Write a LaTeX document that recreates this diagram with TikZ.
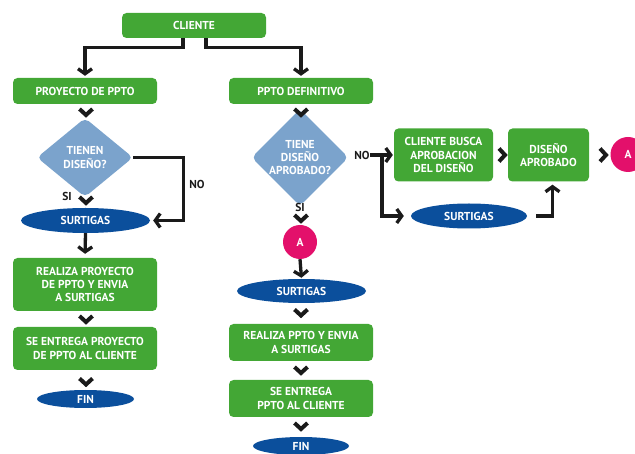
\documentclass[tikz,border=0pt]{standalone}
\usepackage{fontspec}
\setmainfont{PT Sans}
\usetikzlibrary{shapes.geometric,arrows.meta,calc}
\definecolor{gbox}{HTML}{43A735}
\definecolor{gdia}{HTML}{7BA3CC}
\definecolor{gell}{HTML}{0B4F9C}
\definecolor{gmag}{HTML}{E3106B}
\definecolor{gink}{HTML}{1A1A1A}
\begin{document}
\begin{tikzpicture}[x=1pt,y=-1pt,
  every node/.style={font=\bfseries\fontsize{11.5}{13.3}\selectfont, text=white, align=center, inner sep=0pt},
  box/.style={rectangle, rounded corners=4.5pt, fill=gbox},
  dia/.style={diamond, rounded corners=5pt, fill=gdia},
  ell/.style={ellipse, fill=gell},
  circ/.style={circle, fill=gmag},
  lbl/.style={text=gink},
  arr/.style={draw=gink, line width=3.3pt, line join=miter, -{Straight Barb[length=5pt,width=14pt,line width=3.3pt]}},
  chevd/.pic={\draw[gink, line width=4pt, line join=miter, miter limit=10] (-6.5,-3) -- (0,3) -- (6.5,-3);},
  chevr/.pic={\draw[gink, line width=4pt, line join=miter, miter limit=10] (-3,-6.5) -- (3,0) -- (-3,6.5);}
]
\clip (0,0) rectangle (635,454);
\useasboundingbox (0,0) rectangle (635,454);

% left column
\node[box, minimum width=144pt, minimum height=25pt] (cli) at (194,25.5) {CLIENTE};
\node[box, minimum width=144pt, minimum height=26pt] (proy) at (85,91) {PROYECTO DE PPTO};
\node[box, minimum width=144pt, minimum height=26pt] (def) at (301,91) {PPTO DEFINITIVO};
\node[dia, minimum width=96pt, minimum height=79pt] (d1) at (85,157.5) {TIENEN\\DISEÑO?};
\node[dia, minimum width=96pt, minimum height=79pt] (d2) at (300,157.5) {TIENE\\DISEÑO\\APROBADO?};
\node[ell, minimum width=129pt, minimum height=25pt] (surt1) at (85.5,220.5) {SURTIGAS};
\node[box, minimum width=144pt, minimum height=53pt] (real1) at (85,284.5) {REALIZA PROYECTO\\DE PPTO Y ENVIA\\A SURTIGAS};
\node[box, minimum width=144pt, minimum height=43pt] (ent1) at (85,348.5) {SE ENTREGA PROYECTO\\DE PPTO AL CLIENTE};
\node[ell, minimum width=97pt, minimum height=18pt] (fin1) at (85.5,399) {FIN};

% right branch
\node[box, minimum width=99pt, minimum height=53pt] (cba) at (443.5,155) {CLIENTE BUSCA\\APROBACION\\DEL DISEÑO};
\node[box, minimum width=81pt, minimum height=53pt] (dis) at (548.5,155) {DISEÑO\\APROBADO};
\node[circ, minimum size=35pt] (aR) at (628,154.5) {A};
\node[ell, minimum width=116pt, minimum height=25pt] (surt2) at (469,216) {SURTIGAS};

% middle column lower
\node[circ, minimum size=34pt] (aM) at (300,242) {A};
\node[ell, minimum width=129pt, minimum height=24pt] (surt3) at (301.5,291) {SURTIGAS};
\node[box, minimum width=144pt, minimum height=37pt] (real2) at (301,342.5) {REALIZA PPTO Y ENVIA\\A SURTIGAS};
\node[box, minimum width=144pt, minimum height=37pt] (ent2) at (301,398.5) {SE ENTREGA\\PPTO AL CLIENTE};
\node[ell, minimum width=96pt, minimum height=18pt] (fin2) at (301,446) {FIN};

% labels
\node[lbl] (no1) at (197,184) {NO};
\node[lbl] (si1) at (67,196) {SI};
\node[lbl] (no2) at (362,155) {NO};
\node[lbl] (si2) at (300,207) {SI};
\coordinate (nb) at (382,155);

% connectors
\draw[arr, shorten >=2pt] ([xshift=-11pt]cli.south) -- ++(0,9) -| (proy.north);
\draw[arr, shorten >=2pt] ([xshift=12pt]cli.south) -- ++(0,9) -| (def.north);
\draw[arr, shorten >=3pt] (d1.east) -- ++(50,0) |- (surt1.east);
\draw[arr, shorten >=4pt] (surt1.south) -- (real1.north);
\draw[arr, shorten >=1pt] (no2.east) -- (cba.west);
\draw[arr, shorten >=7pt] (nb) |- (surt2.west);
\draw[arr, shorten >=3pt] ([xshift=9pt]surt2.east) -| ([xshift=4pt]dis.south);
\draw[arr, shorten >=1pt] (aM.south) -- (surt3.north);

% chevrons
\pic at (86,112) {chevd};
\pic at (86,200) {chevd};
\pic at (86,319) {chevd};
\pic at (86,381.5) {chevd};
\pic at (301,112) {chevd};
\pic at (301,218) {chevd};
\pic at (301,312.5) {chevd};
\pic at (301,370) {chevd};
\pic at (301,426) {chevd};
\pic at (502,155) {chevr};
\pic at (603,155) {chevr};
\end{tikzpicture}
\end{document}
